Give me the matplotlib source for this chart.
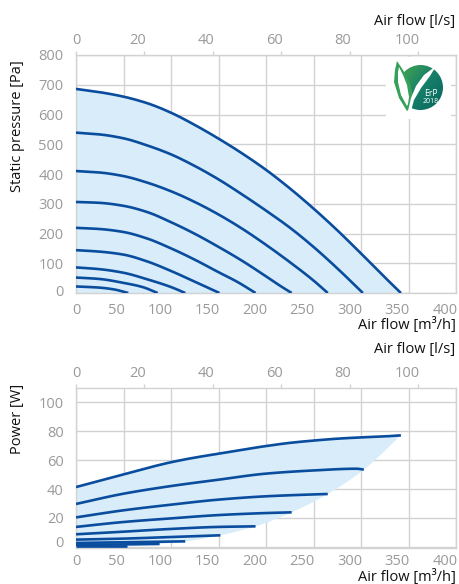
import numpy as np
import matplotlib
matplotlib.use("Agg")
import matplotlib.pyplot as plt
import matplotlib.transforms as mtransforms
from matplotlib.patches import Circle, Polygon, Rectangle
from matplotlib.colors import LinearSegmentedColormap

plt.rcParams['font.family'] = ['Open Sans', 'DejaVu Sans']

# ---------------- data: static pressure curves (Q [m3/h], P [Pa]) ----------------
p_q1 = [0, 25, 50, 75, 100, 125, 150, 175, 200, 225, 250, 275, 300, 325, 342]
p_v1 = [686, 675, 660, 638, 606, 565, 519, 469, 414, 352, 284, 211, 133, 53, 0]
p_q2 = [0, 25, 50, 75, 100, 125, 150, 175, 200, 225, 250, 275, 302]
p_v2 = [539, 533, 520, 496, 466, 427, 382, 331, 277, 220, 155, 83, 0]
p_q3 = [0, 25, 50, 75, 100, 125, 150, 175, 200, 225, 250, 265]
p_v3 = [410, 405, 393, 371, 342, 306, 264, 216, 162, 104, 42, 0]
p_q4 = [0, 25, 50, 75, 100, 125, 150, 175, 200, 215, 227]
p_v4 = [306, 303, 293, 272, 238, 199, 155, 108, 56, 24, 0]
p_q5 = [0, 25, 50, 75, 100, 125, 150, 170, 189]
p_v5 = [219, 215, 205, 183, 150, 112, 70, 37, 0]
p_q6 = [0, 25, 50, 75, 100, 125, 151]
p_v6 = [144, 139, 129, 106, 74, 38, 0]
p_q7 = [0, 25, 50, 75, 100, 115]
p_v7 = [86, 80, 68, 46, 20, 0]
p_q8 = [0, 25, 50, 70, 86]
p_v8 = [52, 47, 34, 20, 0]
p_q9 = [0, 25, 40, 55]
p_v9 = [22, 18, 12, 0]

# ---------------- data: power curves (Q [m3/h], W) ----------------
w_q1 = [0, 25, 50, 75, 100, 125, 150, 175, 200, 225, 250, 275, 300, 325, 342]
w_v1 = [41.4, 45.8, 50.2, 54.6, 58.6, 61.8, 64.5, 67.3, 69.8, 72.0, 73.6, 74.9, 75.8, 76.5, 77.2]
w_q2 = [0, 50, 100, 150, 200, 250, 295, 303]
w_v2 = [29.7, 36.8, 42.1, 46.5, 50.7, 52.9, 54.1, 53.5]
w_q3 = [0, 50, 100, 150, 200, 250, 265]
w_v3 = [20.4, 25.3, 29.2, 32.7, 35.0, 36.3, 36.6]
w_q4 = [0, 50, 100, 150, 200, 227]
w_v4 = [13.8, 17.2, 19.7, 22.0, 23.4, 23.9]
w_q5 = [0, 50, 100, 150, 189]
w_v5 = [8.7, 10.5, 12.4, 13.8, 14.2]
w_q6 = [0, 50, 100, 152]
w_v6 = [5.0, 5.7, 6.8, 8.0]
w_q7 = [0, 115]
w_v7 = [2.7, 3.8]
w_q8 = [0, 88]
w_v8 = [1.3, 2.0]
w_q9 = [0, 54]
w_v9 = [0.4, 0.4]

# lower limit of the power operating area (curve end points), ascending airflow
lim_q = [0, 54, 88, 115, 152, 189, 227, 265, 303, 342]
lim_w = [0.0, 0.4, 2.0, 3.8, 8.0, 14.2, 23.9, 36.6, 53.5, 77.2]

x_ticks = [0, 50, 100, 150, 200, 250, 300, 350, 400]
ls_ticks = [0, 20, 40, 60, 80, 100]
p_ticks = [0, 100, 200, 300, 400, 500, 600, 700, 800]
w_ticks = [0, 20, 40, 60, 80, 100]

pressure_curves = [(p_q1, p_v1), (p_q2, p_v2), (p_q3, p_v3), (p_q4, p_v4), (p_q5, p_v5),
                   (p_q6, p_v6), (p_q7, p_v7), (p_q8, p_v8), (p_q9, p_v9)]
power_curves = [(w_q1, w_v1), (w_q2, w_v2), (w_q3, w_v3), (w_q4, w_v4), (w_q5, w_v5),
                (w_q6, w_v6), (w_q7, w_v7), (w_q8, w_v8), (w_q9, w_v9)]

LINE = '#0a4d9e'
FILL = '#d8ecf9'
GRID = '#d2d2d2'
TICK = '#9a9a9a'
FS = 10.5

W, H = 459, 584
fig = plt.figure(figsize=(W / 100, H / 100), dpi=100)


def smooth(xs, ys, n=12):
    """Monotone cubic (PCHIP) rendering through the read points, for a smooth stroke."""
    x = np.asarray(xs, float)
    y = np.asarray(ys, float)
    if len(x) < 3:
        return x, y
    h = np.diff(x)
    dl = np.diff(y) / h
    d = np.zeros_like(y)
    d[0], d[-1] = dl[0], dl[-1]
    for k in range(1, len(x) - 1):
        if dl[k - 1] * dl[k] <= 0:
            d[k] = 0.0
        else:
            w1 = 2 * h[k] + h[k - 1]
            w2 = h[k] + 2 * h[k - 1]
            d[k] = (w1 + w2) / (w1 / dl[k - 1] + w2 / dl[k])
    ox, oy = [], []
    t = np.linspace(0, 1, n, endpoint=False)
    for k in range(len(x) - 1):
        h00 = 2 * t ** 3 - 3 * t ** 2 + 1
        h10 = t ** 3 - 2 * t ** 2 + t
        h01 = -2 * t ** 3 + 3 * t ** 2
        h11 = t ** 3 - t ** 2
        ox.extend(x[k] + t * h[k])
        oy.extend(h00 * y[k] + h10 * h[k] * d[k] + h01 * y[k + 1] + h11 * h[k] * d[k + 1])
    ox.append(x[-1])
    oy.append(y[-1])
    return np.array(ox), np.array(oy)


def px_axes(l, t, r, b):
    return fig.add_axes([l / W, 1 - b / H, (r - l) / W, (b - t) / H])


def shift(label, dx, dy):
    off = mtransforms.ScaledTranslation(dx / 100, dy / 100, fig.dpi_scale_trans)
    label.set_transform(label.get_transform() + off)


def right_align(labels):
    for i, lab in enumerate(labels):
        if i == 0:
            continue
        lab.set_ha('right')
        shift(lab, 1.5, 0)


def style(ax, yt, ylim, xpad, zero_up):
    ax.set_xlim(0, 400)
    ax.set_ylim(*ylim)
    ax.set_xticks(x_ticks)
    ax.set_yticks(yt)
    ax.grid(True, color=GRID, linewidth=1.0)
    ax.set_axisbelow(True)
    for s in ax.spines.values():
        s.set_color(GRID)
        s.set_linewidth(1.0)
    ax.tick_params(axis='both', length=0, colors=TICK, labelsize=FS)
    ax.tick_params(axis='x', pad=xpad)
    ax.tick_params(axis='y', pad=9)
    right_align(ax.get_xticklabels())
    shift(ax.get_yticklabels()[0], 0, zero_up)
    sec = ax.secondary_xaxis('top', functions=(lambda q: q / 3.6, lambda l: l * 3.6))
    sec.set_xticks(ls_ticks)
    sec.tick_params(axis='x', length=3, width=1, color=GRID, labelcolor=TICK, labelsize=FS, pad=2)
    sec.spines['top'].set_visible(False)
    right_align(sec.get_xticklabels())
    return sec


# ---------------- top chart ----------------
ax1 = px_axes(76, 55, 456, 293)
style(ax1, p_ticks, (0, 800), 7, 3)
fx, fy = smooth(p_q1, p_v1)
ax1.fill_between(fx, fy, 0, color=FILL, linewidth=0, zorder=1)
for q, v in pressure_curves:
    sx, sy = smooth(q, v)
    ax1.plot(sx, sy, color=LINE, linewidth=1.9, solid_capstyle='butt', zorder=3)

fig.text(455 / W, 1 - 22 / H, 'Air flow [l/s]', ha='right', va='center', fontsize=FS, color='#111111')
fig.text(456 / W, 1 - 325 / H, 'Air flow [m³/h]', ha='right', va='center', fontsize=FS, color='#111111')
fig.text(18 / W, 1 - 126 / H, 'Static pressure [Pa]', ha='center', va='center', rotation=90,
         fontsize=FS, color='#111111')

# ---------------- bottom chart ----------------
ax2 = px_axes(76, 388, 456, 548)
style(ax2, w_ticks, (-0.8, 110), 4, 5)
tx, ty = smooth(w_q1, w_v1)
bx, by = smooth(lim_q, lim_w)
ax2.fill(np.concatenate([tx, bx[::-1][1:]]), np.concatenate([ty, by[::-1][1:]]),
         color=FILL, linewidth=0, zorder=1)
for q, v in power_curves:
    sx, sy = smooth(q, v)
    ax2.plot(sx, sy, color=LINE, linewidth=1.9, solid_capstyle='butt', zorder=3)

fig.text(455 / W, 1 - 350 / H, 'Air flow [l/s]', ha='right', va='center', fontsize=FS, color='#111111')
fig.text(456 / W, 1 - 577 / H, 'Air flow [m³/h]', ha='right', va='center', fontsize=FS, color='#111111')
fig.text(18 / W, 1 - 419 / H, 'Power [W]', ha='center', va='center', rotation=90,
         fontsize=FS, color='#111111')

# ---------------- ErP 2018 logo ----------------
lg = px_axes(386, 57, 451, 119)
lg.set_xlim(386, 451)
lg.set_ylim(119, 57)
lg.axis('off')
lg.add_patch(Rectangle((386, 57), 65, 62, color='white', zorder=0))
circ = Circle((420.5, 87.5), 22.5, transform=lg.transData, facecolor='none', edgecolor='none')
lg.add_patch(circ)
gx, gy = np.meshgrid(np.linspace(0, 1, 80), np.linspace(0, 1, 80))
grad = gx * 0.55 + gy * 0.45
cmap = LinearSegmentedColormap.from_list('erp', ['#4aa84e', '#17806a', '#07665e'])
im = lg.imshow(grad, cmap=cmap, extent=(398, 443, 110, 65), zorder=1, interpolation='bilinear')
im.set_clip_path(circ)
lg.add_patch(Polygon([[407, 111], [399, 98], [394, 82], [395, 70], [397, 61], [403, 70],
                      [410, 82], [413, 96], [411, 108]],
                     closed=True, facecolor='#35a05a', edgecolor='none', zorder=2))
lg.add_patch(Polygon([[407, 106], [401, 95], [398, 82], [398, 72], [399, 67], [403, 75],
                      [407, 85], [409, 97], [408, 104]],
                     closed=True, facecolor='white', edgecolor='none', zorder=2.2))
lg.add_patch(Polygon([[408, 111], [411, 98], [416, 86], [424, 75], [436, 66], [430, 76],
                      [421, 88], [414, 100], [411, 111]],
                     closed=True, facecolor='white', edgecolor='none', zorder=2.4))
lg.text(431, 93, 'ErP', color='white', fontsize=6.2, ha='center', va='center', zorder=3)
lg.text(431, 101.5, '2018', color='white', fontsize=5, ha='center', va='center', zorder=3)

fig.savefig('out.png', dpi=100)
